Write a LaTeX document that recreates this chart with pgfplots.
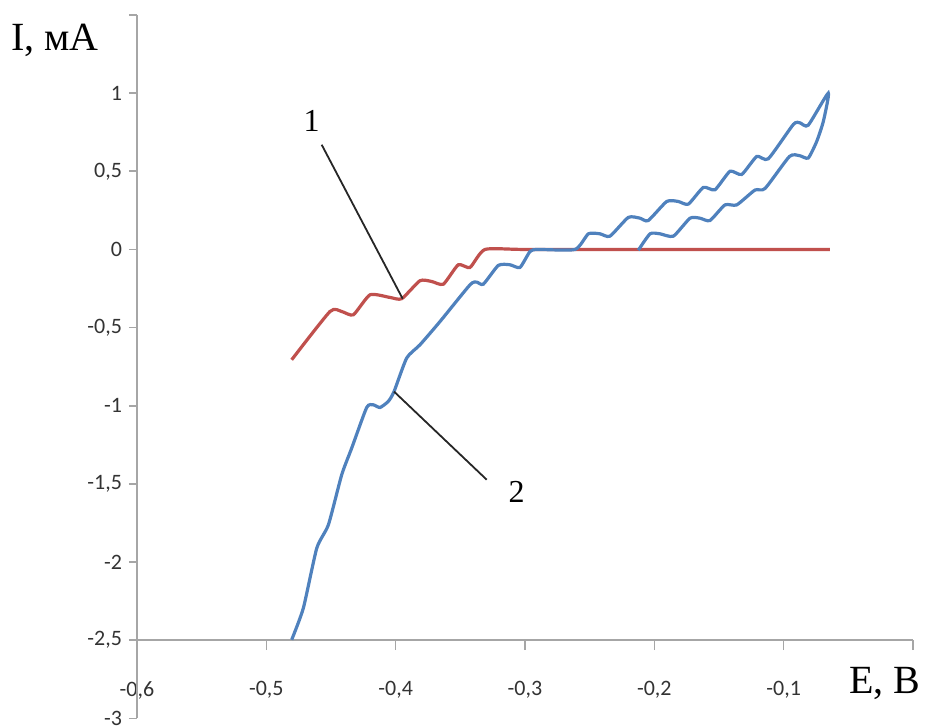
\documentclass[border=0pt]{standalone}
\usepackage{fontspec}
\setmainfont{Liberation Serif}
\newfontfamily\carlito{Carlito}
\usepackage{pgfplots}
\pgfplotsset{compat=1.18}
\definecolor{exred}{HTML}{C0504D}
\definecolor{exblue}{HTML}{4F81BD}
\definecolor{axgray}{HTML}{A6A6A6}
\begin{document}
\begin{tikzpicture}
% Axis B: x axis at y=-2.5
\begin{axis}[
  at={(0,351.7pt)}, anchor=north west,
  scale only axis, width=388pt, height=312.6pt,
  xmin=-0.6, xmax=0, ymin=-2.5, ymax=1.5,
  axis x line=bottom, axis y line=none,
  axis line style={-, axgray, line width=0.8pt},
  xtick={-0.6,-0.5,-0.4,-0.3,-0.2,-0.1,0},
  xticklabels={{-0,6},{-0,5},{-0,4},{-0,3},{-0,2},{-0,1},{}},
  tick align=outside, major tick length=5pt,
  tick style={axgray, line width=0.8pt},
  xticklabel style={font=\carlito\fontsize{11}{13}\selectfont, text=black!80, yshift=-12pt},
]
\end{axis}
% Axis A: y axis and curves
\begin{axis}[
  at={(0,0)}, anchor=south west,
  scale only axis, width=388pt, height=351.7pt,
  xmin=-0.6, xmax=0, ymin=-3, ymax=1.5,
  axis y line=left, axis x line=none,
  axis line style={-, axgray, line width=0.8pt},
  ytick={-3,-2.5,-2,-1.5,-1,-0.5,0,0.5,1,1.5},
  yticklabels={-3,{-2,5},-2,{-1,5},-1,{-0,5},0,{0,5},1,{}},
  tick align=outside, major tick length=4pt,
  tick style={axgray, line width=0.8pt},
  yticklabel style={font=\carlito\fontsize{11}{13}\selectfont, text=black!80},
  clip=false,
]
\addplot[exred, line width=1.6pt, smooth, tension=0.35] coordinates {
(-0.4804,-0.706) (-0.4508,-0.397) (-0.4417,-0.397) (-0.4327,-0.418)
(-0.4198,-0.29) (-0.4044,-0.307) (-0.3953,-0.315) (-0.3812,-0.20)
(-0.3721,-0.205) (-0.3631,-0.222) (-0.3516,-0.098) (-0.3425,-0.115)
(-0.3309,0.0) (-0.30,0.0) (-0.20,0.0) (-0.10,0.0) (-0.0642,0.0)
};
\addplot[exblue, line width=1.6pt, smooth, tension=0.35] coordinates {
(-0.4804,-2.497) (-0.4714,-2.295) (-0.461,-1.911) (-0.452,-1.761)
(-0.4417,-1.441) (-0.434,-1.271) (-0.4224,-1.011) (-0.4173,-0.994)
(-0.4121,-1.011) (-0.4057,-0.972) (-0.4013,-0.91) (-0.3915,-0.695)
(-0.3812,-0.61) (-0.3657,-0.461) (-0.3425,-0.226) (-0.3373,-0.209)
(-0.3322,-0.222) (-0.3206,-0.102) (-0.3116,-0.098) (-0.3039,-0.115)
(-0.2961,-0.013) (-0.290,0.0) (-0.2613,0.0)
(-0.251,0.10) (-0.242,0.10) (-0.2343,0.085)
(-0.2201,0.205) (-0.2111,0.20) (-0.2047,0.185)
(-0.1904,0.307) (-0.1815,0.307) (-0.1737,0.29)
(-0.1621,0.397) (-0.1531,0.382)
(-0.1415,0.50) (-0.1324,0.48)
(-0.1208,0.595) (-0.1119,0.58)
(-0.0925,0.80) (-0.0874,0.81) (-0.081,0.795)
(-0.0655,1.0)
(-0.0693,0.82) (-0.0745,0.69) (-0.081,0.585) (-0.0877,0.60) (-0.0955,0.595)
(-0.1144,0.39) (-0.1222,0.38)
(-0.1363,0.285) (-0.1454,0.285)
(-0.157,0.185) (-0.1647,0.20) (-0.1724,0.20)
(-0.1853,0.085) (-0.1956,0.10) (-0.2033,0.10)
(-0.2124,-0.005)
};
\draw[black!85, line width=0.9pt] (axis cs:-0.4572,0.670) -- (axis cs:-0.3946,-0.315);
\draw[black!85, line width=0.9pt] (axis cs:-0.4013,-0.909) -- (axis cs:-0.3296,-1.473);
\node[font=\fontsize{16}{18}\selectfont] at (axis cs:-0.4649,0.819) {1};
\node[font=\fontsize{16}{18}\selectfont] at (axis cs:-0.3064,-1.548) {2};
\end{axis}
\node[font=\fontsize{20}{24}\selectfont] at (-41pt,339.2pt) {I, мА};
\node[font=\fontsize{20}{24}\selectfont] at (374pt,17.7pt) {E, В};
\pgfresetboundingbox
\path[use as bounding box] (-68.5pt,-3.5pt) rectangle (394pt,359.2pt);
\end{tikzpicture}
\end{document}
